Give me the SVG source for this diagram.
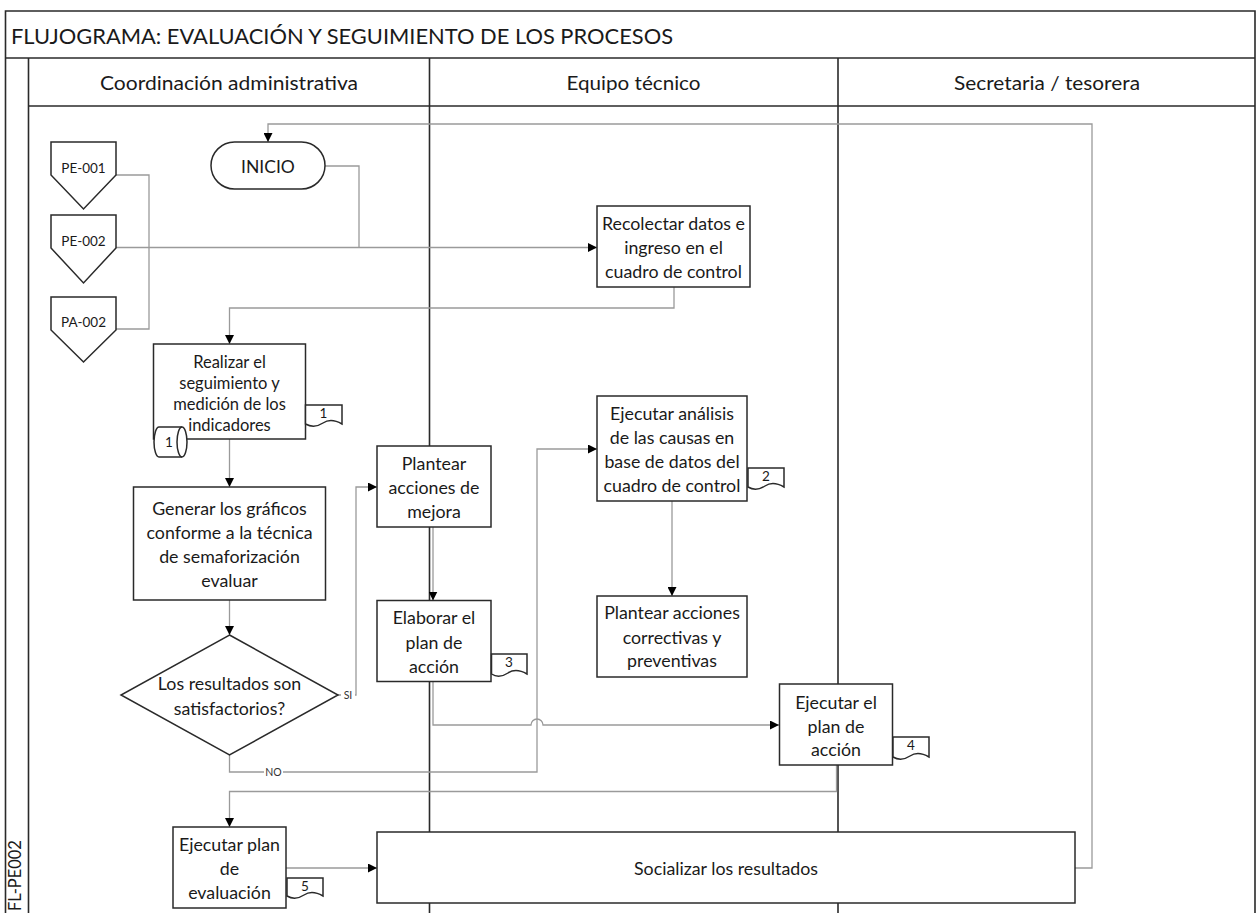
<svg xmlns="http://www.w3.org/2000/svg" width="1256" height="913" viewBox="0 0 1256 913">
<style>
.frame{fill:none;stroke:#2a2a2a;stroke-width:1.6}
.box{fill:#fff;stroke:#2a2a2a;stroke-width:1.5}
.conn{fill:none;stroke:#9a9a9a;stroke-width:1.3}
.t{font-family:Lato,"Liberation Sans",sans-serif;fill:#1a1a1a;text-anchor:middle;dominant-baseline:central}
.bt{font-size:17.8px}
.st{font-size:16.5px}
.hd{font-size:19.5px}
.sm{font-size:13.5px}
.lb{font-family:Lato,"Liberation Sans",sans-serif;font-size:10.5px;fill:#333;text-anchor:middle;dominant-baseline:central}
</style>
<defs>
<marker id="arr" viewBox="0 0 10 10" refX="10" refY="5" markerWidth="9" markerHeight="9" orient="auto" markerUnits="userSpaceOnUse"><path d="M0,0 L10,5 L0,10 Z" fill="#000"/></marker>
</defs>
<rect width="1256" height="913" fill="#fff"/>
<g id="pool">
<path class="frame" d="M5.5,913 V11 H1255 V913"/>
<line class="frame" x1="5.5" y1="58" x2="1255" y2="58"/>
<line class="frame" x1="28.5" y1="106" x2="1255" y2="106"/>
<line class="frame" x1="28.5" y1="58" x2="28.5" y2="913"/>
<line class="frame" x1="429.5" y1="58" x2="429.5" y2="913"/>
<line class="frame" x1="838" y1="58" x2="838" y2="913"/>
<text x="11" y="35" class="t" style="text-anchor:start;font-size:22px" textLength="662" lengthAdjust="spacingAndGlyphs">FLUJOGRAMA: EVALUACIÓN Y SEGUIMIENTO DE LOS PROCESOS</text>
<text x="229" y="82" class="t hd" textLength="258" lengthAdjust="spacingAndGlyphs">Coordinación administrativa</text>
<text x="633.5" y="82" class="t hd" textLength="134" lengthAdjust="spacingAndGlyphs">Equipo técnico</text>
<text x="1047" y="82" class="t hd" textLength="186" lengthAdjust="spacingAndGlyphs">Secretaria / tesorera</text>
<text x="0" y="0" class="t" style="text-anchor:start;font-size:16.5px" transform="translate(15,911) rotate(-90)">FL-PE002</text>
</g>
<g id="connectors">
<path class="conn" d="M116,175 H149 V247.5"/>
<path class="conn" d="M116,329 H149 V247.5"/>
<path class="conn" d="M325,166 H359 V247.5"/>
<path class="conn" d="M116,247.5 H597" marker-end="url(#arr)"/>
<path class="conn" d="M674,287 V308 H229.5 V344" marker-end="url(#arr)"/>
<path class="conn" d="M229.5,439 V487" marker-end="url(#arr)"/>
<path class="conn" d="M229.5,600 V635" marker-end="url(#arr)"/>
<path class="conn" d="M338,695 H356 V487 H377" marker-end="url(#arr)"/>
<path class="conn" d="M229.5,755 V772 H537 V449 H597" marker-end="url(#arr)"/>
<path class="conn" d="M433,527 V600.5" marker-end="url(#arr)"/>
<path class="conn" d="M433,682 V725 H531 A6,6 0 0 1 543,725 H779" marker-end="url(#arr)"/>
<path class="conn" d="M672,501 V596" marker-end="url(#arr)"/>
<path class="conn" d="M836.5,765 V791.5 H229.5 V827" marker-end="url(#arr)"/>
<path class="conn" d="M286,868 H377" marker-end="url(#arr)"/>
<path class="conn" d="M1075,868 H1092 V124 H268 V142" marker-end="url(#arr)"/>
<rect x="341" y="689" width="14" height="12" fill="#fff"/>
<text x="348" y="695" class="lb">SI</text>
<rect x="264" y="766" width="19" height="12" fill="#fff"/>
<text x="273.5" y="772" class="lb">NO</text>
</g>
<g id="pe001">
<path class="box" d="M51,142 H116 V175 L83.5,209 L51,175 Z"/>
<text x="83.5" y="168" class="t sm">PE-001</text>
</g>
<g id="pe002">
<path class="box" d="M51,215 H116 V248 L83.5,283 L51,248 Z"/>
<text x="83.5" y="240.5" class="t sm">PE-002</text>
</g>
<g id="pa002">
<path class="box" d="M51,297 H116 V330 L83.5,362 L51,330 Z"/>
<text x="83.5" y="322" class="t sm">PA-002</text>
</g>
<g id="inicio">
<rect class="box" x="211" y="142" width="114" height="47" rx="23.5"/>
<text x="268" y="166" class="t" style="font-size:17.5px">INICIO</text>
</g>
<g id="recolectar">
<rect class="box" x="597" y="206" width="153" height="81"/>
<text class="t bt"><tspan x="673.5" y="223">Recolectar datos e</tspan><tspan x="673.5" y="247">ingreso en el</tspan><tspan x="673.5" y="271">cuadro de control</tspan></text>
</g>
<g id="realizar">
<rect class="box" x="153.5" y="344" width="152" height="95"/>
<text class="t st"><tspan x="229.5" y="362">Realizar el</tspan><tspan x="229.5" y="383">seguimiento y</tspan><tspan x="229.5" y="404">medición de los</tspan><tspan x="229.5" y="425">indicadores</tspan></text>
<path class="box" d="M305.5,405 H342 V424 C335,420 329,419 323,423 C317,427 311,427 305.5,424 Z"/>
<text x="323.5" y="413" class="t sm">1</text>
<path class="box" d="M159,427 H182 A5,15 0 0 1 182,457 H159 A5,15 0 0 1 159,427 Z"/>
<path class="box" style="fill:none" d="M182,427 A5,15 0 0 0 182,457"/>
<text x="169" y="442" class="t sm">1</text>
</g>
<g id="generar">
<rect class="box" x="133.5" y="487" width="192" height="113"/>
<text class="t bt"><tspan x="229.5" y="508">Generar los gráficos</tspan><tspan x="229.5" y="532">conforme a la técnica</tspan><tspan x="229.5" y="556">de semaforización</tspan><tspan x="229.5" y="580">evaluar</tspan></text>
</g>
<g id="decision">
<path class="box" d="M229.5,635 L338,695 L229.5,755 L121,695 Z"/>
<text class="t bt"><tspan x="229.5" y="683">Los resultados son</tspan><tspan x="229.5" y="708">satisfactorios?</tspan></text>
</g>
<g id="plantear-mejora">
<rect class="box" x="377" y="446" width="114" height="81"/>
<text class="t bt"><tspan x="434" y="463">Plantear</tspan><tspan x="434" y="487">acciones de</tspan><tspan x="434" y="511">mejora</tspan></text>
</g>
<g id="elaborar">
<rect class="box" x="377" y="600.5" width="114" height="81"/>
<text class="t bt"><tspan x="434" y="617">Elaborar el</tspan><tspan x="434" y="641.5">plan de</tspan><tspan x="434" y="666">acción</tspan></text>
<path class="box" d="M491.5,654 H527 V674 C520,670 514,669 508,673 C502,677 496,677 491.5,674 Z"/>
<text x="509" y="662" class="t sm">3</text>
</g>
<g id="ejecutar-analisis">
<rect class="box" x="597" y="396" width="150" height="105"/>
<text class="t bt"><tspan x="672" y="413">Ejecutar análisis</tspan><tspan x="672" y="437">de las causas en</tspan><tspan x="672" y="461">base de datos del</tspan><tspan x="672" y="485">cuadro de control</tspan></text>
<path class="box" d="M748,468 H784 V487 C777,483 771,482 765,486 C759,490 753,490 748,487 Z"/>
<text x="766" y="476" class="t sm">2</text>
</g>
<g id="plantear-correctivas">
<rect class="box" x="597" y="596" width="150" height="81"/>
<text class="t bt"><tspan x="672" y="612">Plantear acciones</tspan><tspan x="672" y="636.5">correctivas y</tspan><tspan x="672" y="660">preventivas</tspan></text>
</g>
<g id="ejecutar-plan">
<rect class="box" x="779.5" y="684" width="113" height="81"/>
<text class="t bt"><tspan x="836" y="702">Ejecutar el</tspan><tspan x="836" y="726">plan de</tspan><tspan x="836" y="749">acción</tspan></text>
<path class="box" d="M893,737 H929 V757 C922,753 916,752 910,756 C904,760 898,760 893,757 Z"/>
<text x="911" y="745" class="t sm">4</text>
</g>
<g id="ejecutar-evaluacion">
<rect class="box" x="173" y="827" width="113" height="81"/>
<text class="t bt"><tspan x="229.5" y="844">Ejecutar plan</tspan><tspan x="229.5" y="868">de</tspan><tspan x="229.5" y="892">evaluación</tspan></text>
<path class="box" d="M287,878 H323 V896 C316,892 310,891 304,895 C298,899 292,899 287,896 Z"/>
<text x="305" y="886" class="t sm">5</text>
</g>
<g id="socializar">
<rect class="box" x="377" y="832" width="698" height="71"/>
<text x="726" y="868" class="t bt">Socializar los resultados</text>
</g>
</svg>
